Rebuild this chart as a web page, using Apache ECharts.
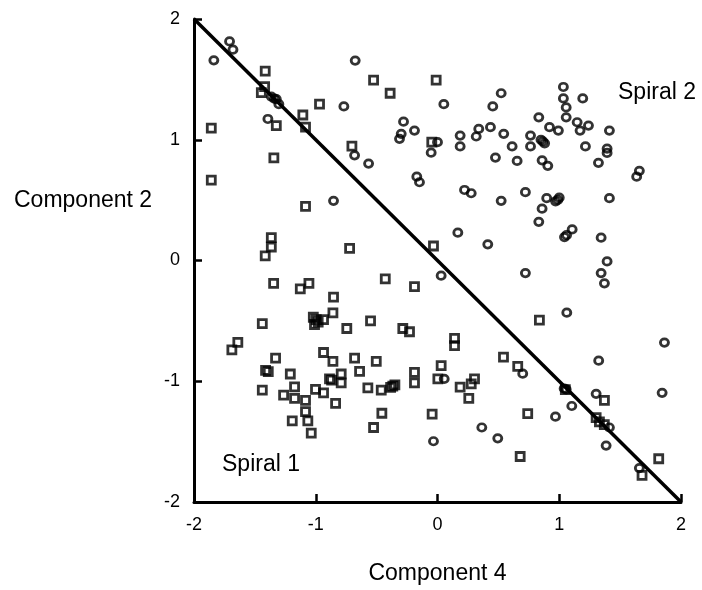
<!DOCTYPE html>
<html><head><meta charset="utf-8">
<script src="https://cdn.jsdelivr.net/npm/echarts@6/dist/echarts.min.js"></script>
<style>html,body{margin:0;padding:0;background:#fff}#c{width:702px;height:590px}</style>
</head><body><div id="c"></div>
<script>
const xTicks = [-2, -1, 0, 1, 2];
const yTicks = [-2, -1, 0, 1, 2];
const boundaryX = [-2, 2];
const boundaryY = [2, -2];
const spiral1 = [
 [-1.415,1.568],[-1.42,1.44],[-1.447,1.391],[-0.525,1.494],[-0.389,1.385],[-0.969,1.295],[-1.106,1.205],[-1.084,1.104],[-1.324,1.117],[-1.858,1.096],[-0.703,0.948],[-0.047,0.981],[-0.011,1.494],[-1.344,0.85],[-1.858,0.666],[-1.084,0.448],[-1.365,0.189],[-1.365,0.112],[-1.415,0.038],[-0.722,0.101],[-0.033,0.12],
 [0.837,-0.494],[0.14,-0.645],[0.14,-0.705],[0.542,-0.801],[0.659,-0.877],[0.03,-0.871],[0.003,-0.981],[0.304,-0.981],[0.277,-1.022],[0.186,-1.049],[0.257,-1.142],[-0.044,-1.273],[0.741,-1.268],[0.679,-1.623],[1.371,-1.158],[1.303,-1.301],[1.33,-1.336],[1.37,-1.36],[1.817,-1.642],[1.68,-1.779],[1.05,-1.07],
 [-1.346,-0.189],[-1.127,-0.235],[-1.056,-0.189],[-0.429,-0.153],[-0.189,-0.216],[-0.854,-0.303],[-0.859,-0.434],[-0.936,-0.489],[-0.996,-0.489],[-1.02,-0.47],[-1.01,-0.53],[-0.98,-0.51],[-1.439,-0.522],[-0.745,-0.563],[-0.55,-0.5],[-0.285,-0.563],[-0.23,-0.59],[-1.64,-0.678],[-1.689,-0.74],[-1.33,-0.809],[-1.412,-0.91],[-1.39,-0.92],[-0.936,-0.762],[-0.859,-0.836],[-0.681,-0.809],[-0.503,-0.836],[-0.64,-0.918],[-1.209,-0.94],[-0.791,-0.94],[-0.887,-0.981],[-0.87,-0.99],[-0.791,-1.014],[-1.439,-1.074],[-1.174,-1.047],[-1.264,-1.115],[-1.174,-1.142],[-1.002,-1.068],[-0.936,-1.096],[-1.084,-1.158],[-1.084,-1.251],[-1.065,-1.328],[-1.037,-1.429],[-1.193,-1.328],[-0.837,-1.183],[-0.572,-1.055],[-0.462,-1.074],[-0.367,-1.041],[-0.35,-1.03],[-0.385,-1.05],[-0.189,-0.926],[-0.189,-1.014],[-0.457,-1.265],[-0.525,-1.383]
];
const spiral2 = [
 [-1.708,1.814],[-1.68,1.746],[-1.837,1.658],[-0.676,1.656],[-0.769,1.276],[-1.393,1.172],[-0.279,1.15],[-0.189,1.076],[-0.298,1.049],[-0.312,1.008],[-0.052,0.893],[-0.681,0.871],[-0.566,0.803],[-0.17,0.694],[-0.148,0.648],[-0.854,0.494],[-1.365,1.358],[-1.324,1.336],[-1.303,1.295],[-1.34,1.34],[0.0,0.98],
 [0.052,1.295],[0.523,1.385],[0.454,1.276],[0.832,1.186],[1.034,1.437],[1.034,1.342],[1.057,1.268],[1.057,1.186],[1.193,1.342],[1.147,1.145],[1.171,1.076],[1.24,1.117],[1.412,1.076],[0.92,1.104],[0.993,1.076],[0.186,1.035],[0.186,0.945],[0.339,1.09],[0.318,1.027],[0.435,1.104],[0.544,1.049],[0.613,0.945],[0.476,0.852],[0.654,0.825],[0.764,1.035],[0.764,0.945],[0.865,0.986],[0.85,1.0],[0.88,0.97],[0.859,0.83],[0.906,0.784],[1.215,0.945],[1.393,0.926],[1.393,0.891],[1.322,0.809],[1.658,0.743],[1.636,0.694],[0.222,0.584],[0.277,0.557],[0.523,0.494],[0.722,0.566],[0.897,0.516],[0.988,0.502],[0.97,0.49],[1.0,0.52],[0.859,0.429],[1.412,0.516],[0.832,0.32],[0.167,0.23],[0.413,0.134],[1.106,0.257],[1.043,0.194],[1.06,0.21],[1.344,0.189],[1.393,-0.008],
 [0.03,-0.126],[0.722,-0.104],[1.344,-0.104],[1.371,-0.189],[1.062,-0.432],[1.864,-0.68],[1.324,-0.83],[0.7,-0.937],[1.845,-1.096],[1.303,-1.104],[1.103,-1.205],[0.969,-1.293],[0.364,-1.383],[0.495,-1.473],[-0.033,-1.497],[1.385,-1.533],[1.658,-1.719],[0.055,-0.981],[1.057,-1.068],[1.04,-1.06],[1.412,-1.383]
];
const labels = { xName: 'Component 4', yName: 'Component 2', s1: 'Spiral 1', s2: 'Spiral 2' };

const font = 'Liberation Sans, Arial, Helvetica, sans-serif';
const chart = echarts.init(document.getElementById('c'));
const axisCommon = {
  type: 'value', min: -2, max: 2, interval: 1,
  axisLine: { onZero: false, lineStyle: { color: '#000', width: 3 } },
  axisTick: { inside: true, length: 8, lineStyle: { color: '#000', width: 2.5 } },
  splitLine: { show: false },
  axisLabel: { color: '#000', fontSize: 18, fontFamily: font, margin: 14 }
};
chart.setOption({
  animation: false,
  backgroundColor: '#fff',
  grid: { left: 194, right: 21, top: 19, bottom: 82, containLabel: false },
  xAxis: Object.assign({}, axisCommon, {
    name: labels.xName, nameLocation: 'middle', nameGap: 60,
    nameTextStyle: { color: '#000', fontSize: 23, fontFamily: font }
  }),
  yAxis: Object.assign({}, axisCommon, {}),
  graphic: [
    { type: 'text', left: 14, top: 189, style: { text: labels.yName, fill: '#000', font: '23px ' + font } },
    { type: 'text', left: 222, top: 453, style: { text: labels.s1, fill: '#000', font: '23px ' + font } },
    { type: 'text', left: 618, top: 81, style: { text: labels.s2, fill: '#000', font: '23px ' + font } }
  ],
  series: [
    { type: 'line', data: boundaryX.map((x, i) => [x, boundaryY[i]]), symbol: 'none',
      lineStyle: { color: '#000', width: 3.5 }, z: 3 },
    { type: 'scatter', data: spiral1, symbol: 'rect', symbolSize: 8,
      itemStyle: { color: 'rgba(0,0,0,0)', borderColor: '#000', borderWidth: 2.8 }, z: 4 },
    { type: 'scatter', data: spiral2, symbol: 'circle', symbolSize: [8, 7.5],
      itemStyle: { color: 'rgba(0,0,0,0)', borderColor: '#000', borderWidth: 2.8 }, z: 4 }
  ]
});
</script></body></html>
